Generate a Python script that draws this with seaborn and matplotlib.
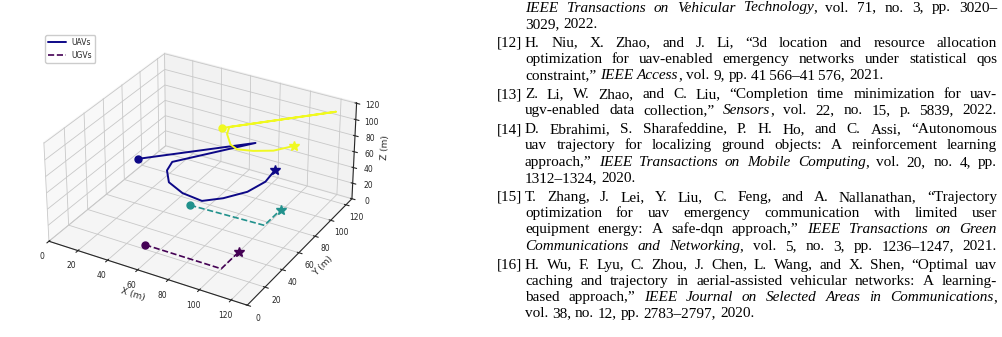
import numpy as np
import matplotlib
matplotlib.use("Agg")
import matplotlib.pyplot as plt
import seaborn as sns
from matplotlib.font_manager import FontProperties
from matplotlib.lines import Line2D

# ---------------- data ----------------
uav1_x = [19, 70, 38.5, 41, 49, 62, 76, 85, 93.5, 97, 95.5]
uav1_y = [66, 117, 73, 63, 52, 45.5, 43.5, 52, 65, 80, 94]
uav1_z = [50, 50, 50, 50, 50, 50, 50, 50, 50, 50, 50]

uav2_x = [58, 120, 61, 64, 72, 78, 87, 97, 102, 104.5]
uav2_y = [98, 122, 101, 93, 83, 80, 83, 89, 96, 99.5]
uav2_z = [80, 110, 80, 80, 80, 80, 80, 80, 80, 80]

ugv1_x = [50, 100, 100]
ugv1_y = [24, 24, 44]
ugv1_z = [0, 0, 0]

ugv2_x = [50, 99, 99]
ugv2_y = [74, 76, 96]
ugv2_z = [0, 0, 0]

legend_labels = ["UAVs", "UGVs"]
axis_labels = ["X (m)", "Y (m)", "Z (m)"]
ticks = [0, 20, 40, 60, 80, 100, 120]

ref_labels = ["", "[12]", "[13]", "[14]", "[15]", "[16]"]
ref_lines = [
    ["|IEEE Transactions on Vehicular Technology|, vol. 71, no. 3, pp. 3020–",
     "3029, 2022."],
    ["H. Niu, X. Zhao, and J. Li, “3d location and resource allocation",
     "optimization for uav-enabled emergency networks under statistical qos",
     "constraint,” |IEEE Access|, vol. 9, pp. 41\u2009566–41\u2009576, 2021."],
    ["Z. Li, W. Zhao, and C. Liu, “Completion time minimization for uav-",
     "ugv-enabled data collection,” |Sensors|, vol. 22, no. 15, p. 5839, 2022."],
    ["D. Ebrahimi, S. Sharafeddine, P. H. Ho, and C. Assi, “Autonomous",
     "uav trajectory for localizing ground objects: A reinforcement learning",
     "approach,” |IEEE Transactions on Mobile Computing|, vol. 20, no. 4, pp.",
     "1312–1324, 2020."],
    ["T. Zhang, J. Lei, Y. Liu, C. Feng, and A. Nallanathan, “Trajectory",
     "optimization for uav emergency communication with limited user",
     "equipment energy: A safe-dqn approach,” |IEEE Transactions on Green|",
     "|Communications and Networking|, vol. 5, no. 3, pp. 1236–1247, 2021."],
    ["H. Wu, F. Lyu, C. Zhou, J. Chen, L. Wang, and X. Shen, “Optimal uav",
     "caching and trajectory in aerial-assisted vehicular networks: A learning-",
     "based approach,” |IEEE Journal on Selected Areas in Communications|,",
     "vol. 38, no. 12, pp. 2783–2797, 2020."],
]
# last lines that are set flush to the right margin in the source
full_last = {(2, 1), (4, 3)}

# ---------------- figure ----------------
sns.set_style("white")
plt.rcParams["font.family"] = ["DejaVu Sans"]
plt.rcParams["grid.color"] = "#c8c8c8"
plt.rcParams["grid.linewidth"] = 0.6

W, H = 1003, 337
fig = plt.figure(figsize=(W / 100, H / 100), dpi=100)

side = 328
ax = fig.add_axes([35 / W, -3 / H, side / W, side / H], projection="3d")
ax.set_box_aspect((1, 1, 0.5))

uav_cols = plt.cm.plasma(np.linspace(0, 1, 2))
ugv_cols = plt.cm.viridis(np.linspace(0, 0.5, 2))

uavs = [(uav1_x, uav1_y, uav1_z), (uav2_x, uav2_y, uav2_z)]
ugvs = [(ugv1_x, ugv1_y, ugv1_z), (ugv2_x, ugv2_y, ugv2_z)]

for (x, y, z), c in zip(uavs, uav_cols):
    ax.plot(x, y, z, color=c, lw=1.4, ls="-")
    ax.plot([x[0]], [y[0]], [z[0]], marker="o", ms=5, color=c, ls="none")
    ax.plot([x[-1]], [y[-1]], [z[-1]], marker="*", ms=7.5, color=c, ls="none")
for (x, y, z), c in zip(ugvs, ugv_cols):
    ax.plot(x, y, z, color=c, lw=1.2, ls="--")
    ax.plot([x[0]], [y[0]], [z[0]], marker="o", ms=5, color=c, ls="none")
    ax.plot([x[-1]], [y[-1]], [z[-1]], marker="*", ms=7.5, color=c, ls="none")

ax.set_xlim(0, 130)
ax.set_ylim(0, 128)
ax.set_zlim(0, 121)
ax.set_xticks(ticks)
ax.set_yticks(ticks)
ax.set_zticks(ticks)
ax.tick_params(labelsize=5.5, pad=-1.5)
ax.set_xlabel(axis_labels[0], fontsize=6.5, labelpad=-8)
ax.set_ylabel(axis_labels[1], fontsize=6.5, labelpad=-8)
ax.set_zlabel(axis_labels[2], fontsize=6.5, labelpad=-8)

handles = [Line2D([], [], color=uav_cols[0], lw=1.4, ls="-"),
           Line2D([], [], color=ugv_cols[0], lw=1.2, ls="--")]
ax.legend(handles, legend_labels, loc="upper left",
          bbox_to_anchor=(45 / W, 1 - 35 / H), bbox_transform=fig.transFigure,
          fontsize=5.5, handlelength=2.3, borderaxespad=0, framealpha=1)

# ---------------- reference text (justified) ----------------
FS = 11.0
fp_n = FontProperties(family=["Liberation Serif", "DejaVu Serif"], size=FS)
fp_i = FontProperties(family=["Liberation Serif", "DejaVu Serif"], size=FS, style="italic")
renderer = fig.canvas.get_renderer()


def width(s, fp):
    return renderer.get_text_width_height_descent(s, fp, ismath=False)[0]


def tokenize(line, ital):
    words = []
    for w in line.split(" "):
        runs = []
        cur = ""
        for ch in w:
            if ch == "|":
                if cur:
                    runs.append((cur, ital))
                cur = ""
                ital = not ital
            else:
                cur += ch
        if cur:
            runs.append((cur, ital))
        if runs:
            words.append(runs)
    return words, ital


LEFT_LBL, LEFT_TXT, RIGHT = 497, 525, 997
LSTEP, GAP = 16.3, 2.5
y = 11.5
space_w = 0.25 * FS * 100 / 72
for ri, (lbl, lines) in enumerate(zip(ref_labels, ref_lines)):
    if ri > 0:
        y += GAP
    if lbl:
        fig.text(LEFT_LBL / W, 1 - y / H, lbl, fontproperties=fp_n,
                 va="baseline", ha="left", color="black")
    ital = False
    for li, line in enumerate(lines):
        words, ital = tokenize(line, ital)
        wws = [sum(width(t, fp_i if it else fp_n) for t, it in runs) for runs in words]
        last = li == len(lines) - 1 and (ri, li) not in full_last
        if last or len(words) < 2:
            gap = space_w
        else:
            gap = max((RIGHT - LEFT_TXT - sum(wws)) / (len(words) - 1), 0.6 * space_w)
        x = LEFT_TXT
        for runs, ww in zip(words, wws):
            xx = x
            for t, it in runs:
                fp = fp_i if it else fp_n
                fig.text(xx / W, 1 - y / H, t, fontproperties=fp,
                         va="baseline", ha="left", color="black")
                xx += width(t, fp)
            x += ww + gap
        y += LSTEP

fig.savefig("out.png", dpi=100)
